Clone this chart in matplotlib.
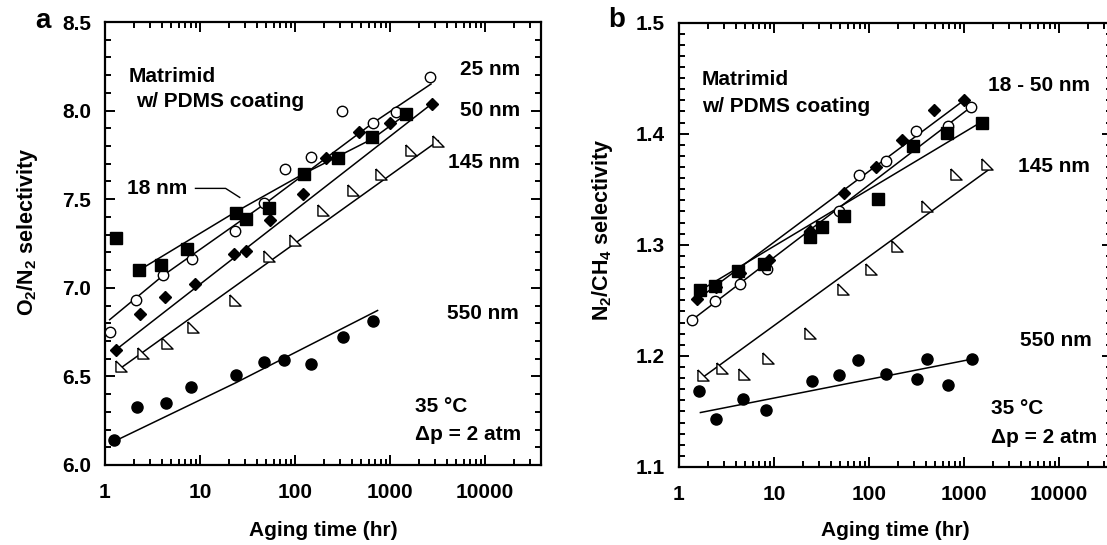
import matplotlib
matplotlib.use("Agg")
import matplotlib.pyplot as plt
from matplotlib.ticker import MultipleLocator, LogLocator, FixedLocator, FixedFormatter, NullFormatter

plt.rcParams["font.family"] = ["Liberation Sans", "DejaVu Sans"]
plt.rcParams["font.weight"] = "bold"
plt.rcParams["mathtext.fontset"] = "custom"
plt.rcParams["mathtext.rm"] = "Liberation Sans:bold"
plt.rcParams["mathtext.bf"] = "Liberation Sans:bold"

# ---- panel a: O2/N2 selectivity ----
a_sq_t = [1.3, 2.3, 3.9, 7.3, 23.8, 30.8, 53.6, 123, 285, 649, 1478]
a_sq_v = [7.28, 7.10, 7.13, 7.22, 7.42, 7.39, 7.45, 7.64, 7.73, 7.85, 7.98]
a_sq_fit_t = [2.3, 24, 120, 650, 1480]
a_sq_fit_v = [7.10, 7.43, 7.64, 7.84, 7.98]

a_oc_t = [1.14, 2.14, 4.1, 8.2, 23.2, 47, 78, 149, 311, 668, 1155, 2650]
a_oc_v = [6.75, 6.93, 7.07, 7.16, 7.32, 7.48, 7.67, 7.74, 8.00, 7.93, 7.99, 8.19]
a_oc_fit_t = [1.12, 4.1, 47, 660, 2700]
a_oc_fit_v = [6.82, 7.07, 7.47, 7.93, 8.15]

a_di_t = [1.3, 2.33, 4.28, 8.8, 23, 30.8, 55, 120, 214, 470, 1000, 2780]
a_di_v = [6.65, 6.85, 6.95, 7.02, 7.19, 7.21, 7.38, 7.53, 7.73, 7.88, 7.93, 8.04]
a_di_fit_t = [1.3, 2780]
a_di_fit_v = [6.65, 8.04]

a_tr_t = [1.49, 2.5, 4.5, 8.4, 23.2, 53, 101, 198, 403, 805, 1680, 3220]
a_tr_v = [6.56, 6.63, 6.69, 6.78, 6.93, 7.18, 7.27, 7.44, 7.55, 7.64, 7.78, 7.83]
a_tr_fit_t = [1.49, 3220]
a_tr_fit_v = [6.55, 7.83]

a_fc_t = [1.25, 2.18, 4.35, 8.05, 24.2, 46.7, 75.8, 149, 317, 665]
a_fc_v = [6.14, 6.33, 6.35, 6.44, 6.51, 6.58, 6.59, 6.57, 6.72, 6.81]
a_fc_fit_t = [1.17, 24, 740]
a_fc_fit_v = [6.126, 6.465, 6.872]

# ---- panel b: N2/CH4 selectivity ----
b_di_t = [1.54, 2.48, 4.35, 8.8, 24, 54.8, 119, 222, 484, 993]
b_di_v = [1.251, 1.262, 1.275, 1.286, 1.312, 1.347, 1.370, 1.394, 1.421, 1.430]
b_di_fit_t = [1.57, 1000]
b_di_fit_v = [1.251, 1.430]

b_sq_t = [1.68, 2.42, 4.17, 7.8, 23.9, 31.8, 54.8, 124, 293, 655, 1530]
b_sq_v = [1.259, 1.263, 1.276, 1.283, 1.307, 1.316, 1.326, 1.341, 1.389, 1.401, 1.410]
b_sq_fit_t = [1.68, 1560]
b_sq_fit_v = [1.259, 1.411]

b_oc_t = [1.38, 2.38, 4.35, 8.4, 48, 79, 151, 314, 684, 1180]
b_oc_v = [1.2325, 1.2497, 1.2648, 1.278, 1.330, 1.363, 1.375, 1.402, 1.407, 1.424]
b_oc_fit_t = [1.38, 1200]
b_oc_fit_v = [1.2325, 1.4243]

b_tr_t = [1.8, 2.82, 4.87, 8.7, 24.1, 53, 104, 196, 407, 828, 1727]
b_tr_v = [1.183, 1.189, 1.184, 1.198, 1.2205, 1.260, 1.278, 1.299, 1.335, 1.364, 1.373]
b_tr_fit_t = [1.8, 1850]
b_tr_fit_v = [1.181, 1.368]

b_fc_t = [1.61, 2.44, 4.74, 8.3, 25, 48, 77, 151, 320, 407, 684, 1200]
b_fc_v = [1.168, 1.143, 1.161, 1.151, 1.177, 1.183, 1.196, 1.184, 1.179, 1.197, 1.174, 1.197]
b_fc_fit_t = [1.68, 1200]
b_fc_fit_v = [1.149, 1.197]

XTICKS = [1, 10, 100, 1000, 10000]
XTICKLABELS = ["1", "10", "100", "1000", "10000"]

TRI = [(-1, 1), (-1, -1), (1, -1), (-1, 1)]


def style_axes(ax, xmax, ylim, ymajor, yminor):
    ax.set_xscale("log")
    ax.set_xlim(1, xmax)
    ax.set_ylim(*ylim)
    ax.xaxis.set_major_locator(FixedLocator(XTICKS))
    ax.xaxis.set_major_formatter(FixedFormatter(XTICKLABELS))
    ax.xaxis.set_minor_locator(LogLocator(base=10, subs=range(2, 10), numticks=20))
    ax.xaxis.set_minor_formatter(NullFormatter())
    ax.yaxis.set_major_locator(MultipleLocator(ymajor))
    ax.yaxis.set_minor_locator(MultipleLocator(yminor))
    ax.yaxis.set_major_formatter(plt.FuncFormatter(lambda v, p: f"{v:.1f}"))
    ax.tick_params(which="both", direction="in", top=True, right=True, width=1.4,
                   labelsize=15)
    ax.tick_params(axis="x", which="major", pad=13)
    ax.tick_params(axis="y", which="major", pad=10)
    ax.tick_params(which="major", length=7)
    ax.tick_params(which="minor", length=4)
    for s in ax.spines.values():
        s.set_linewidth(1.6)
    for lab in ax.get_xticklabels() + ax.get_yticklabels():
        lab.set_fontweight("bold")


def series(ax, t, v, ft, fv, **kw):
    ax.plot(ft, fv, color="black", linewidth=1.1, zorder=2)
    ax.plot(t, v, linestyle="none", color="black", zorder=3, **kw)


sq = dict(marker="s", markersize=8, markerfacecolor="black", markeredgecolor="black")
oc = dict(marker="o", markersize=7.5, markerfacecolor="white", markeredgecolor="black", markeredgewidth=1)
di = dict(marker="D", markersize=5.8, markerfacecolor="black", markeredgecolor="black")
tr = dict(marker=TRI, markersize=8, markerfacecolor="white", markeredgecolor="black", markeredgewidth=1)
fc = dict(marker="o", markersize=8, markerfacecolor="black", markeredgecolor="black")

fig = plt.figure(figsize=(11.07, 5.45), dpi=100)
ax1 = fig.add_axes([105 / 1107, 1 - 465 / 545, 436 / 1107, 443 / 545])
ax2 = fig.add_axes([679 / 1107, 1 - 467 / 545, 433 / 1107, 444.5 / 545])

# panel a
series(ax1, a_fc_t, a_fc_v, a_fc_fit_t, a_fc_fit_v, **fc)
series(ax1, a_tr_t, a_tr_v, a_tr_fit_t, a_tr_fit_v, **tr)
series(ax1, a_di_t, a_di_v, a_di_fit_t, a_di_fit_v, **di)
series(ax1, a_oc_t, a_oc_v, a_oc_fit_t, a_oc_fit_v, **oc)
series(ax1, a_sq_t, a_sq_v, a_sq_fit_t, a_sq_fit_v, **sq)
style_axes(ax1, 10 ** (436 / 95), (6.0, 8.5), 0.5, 0.1)
ax1.set_ylabel(r"O$_\mathbf{2}$/N$_\mathbf{2}$ selectivity", fontsize=15.5, fontweight="bold")
ax1.yaxis.set_label_coords(-0.149, 0.526)
ax1.set_xlabel("Aging time (hr)", fontsize=15, fontweight="bold")
ax1.xaxis.set_label_coords(0.5, -0.126)

kw = dict(transform=ax1.transAxes, fontsize=15, fontweight="bold", va="center")
ax1.text(0.055, 0.878, "Matrimid", **kw)
ax1.text(0.071, 0.82, "w/ PDMS coating", **kw)
ax1.text(0.952, 0.892, "25 nm", ha="right", **kw)
ax1.text(0.952, 0.801, "50 nm", ha="right", **kw)
ax1.text(0.952, 0.682, "145 nm", ha="right", **kw)
ax1.text(0.950, 0.343, "550 nm", ha="right", **kw)
ax1.text(0.711, 0.131, "35 °C", **kw)
ax1.text(0.711, 0.068, "Δp = 2 atm", **kw)
ax1.text(0.051, 0.625, "18 nm", **kw)
ax1.plot([8.96, 18.6, 26.2], [7.561, 7.561, 7.51], color="black", linewidth=1)
fig.text(43 / 1107, 1 - 21 / 545, "a", fontsize=20, fontweight="bold", ha="center", va="center")

# panel b
series(ax2, b_fc_t, b_fc_v, b_fc_fit_t, b_fc_fit_v, **fc)
series(ax2, b_tr_t, b_tr_v, b_tr_fit_t, b_tr_fit_v, **tr)
series(ax2, b_oc_t, b_oc_v, b_oc_fit_t, b_oc_fit_v, **oc)
series(ax2, b_sq_t, b_sq_v, b_sq_fit_t, b_sq_fit_v, **sq)
series(ax2, b_di_t, b_di_v, b_di_fit_t, b_di_fit_v, **di)
style_axes(ax2, 10 ** (433 / 95), (1.1, 1.5), 0.1, 0.01)
ax2.set_ylabel(r"N$_\mathbf{2}$/CH$_\mathbf{4}$ selectivity", fontsize=15.5, fontweight="bold")
ax2.yaxis.set_label_coords(-0.148, 0.535)
ax2.set_xlabel("Aging time (hr)", fontsize=15, fontweight="bold")
ax2.xaxis.set_label_coords(0.5, -0.121)

kw = dict(transform=ax2.transAxes, fontsize=15, fontweight="bold", va="center")
ax2.text(0.053, 0.871, "Matrimid", **kw)
ax2.text(0.053, 0.81, "w/ PDMS coating", **kw)
ax2.text(0.949, 0.859, "18 - 50 nm", ha="right", **kw)
ax2.text(0.949, 0.677, "145 nm", ha="right", **kw)
ax2.text(0.954, 0.285, "550 nm", ha="right", **kw)
ax2.text(0.72, 0.131, "35 °C", **kw)
ax2.text(0.72, 0.066, "Δp = 2 atm", **kw)
fig.text(617 / 1107, 1 - 20 / 545, "b", fontsize=20, fontweight="bold", ha="center", va="center")

fig.savefig("out.png", dpi=100)
